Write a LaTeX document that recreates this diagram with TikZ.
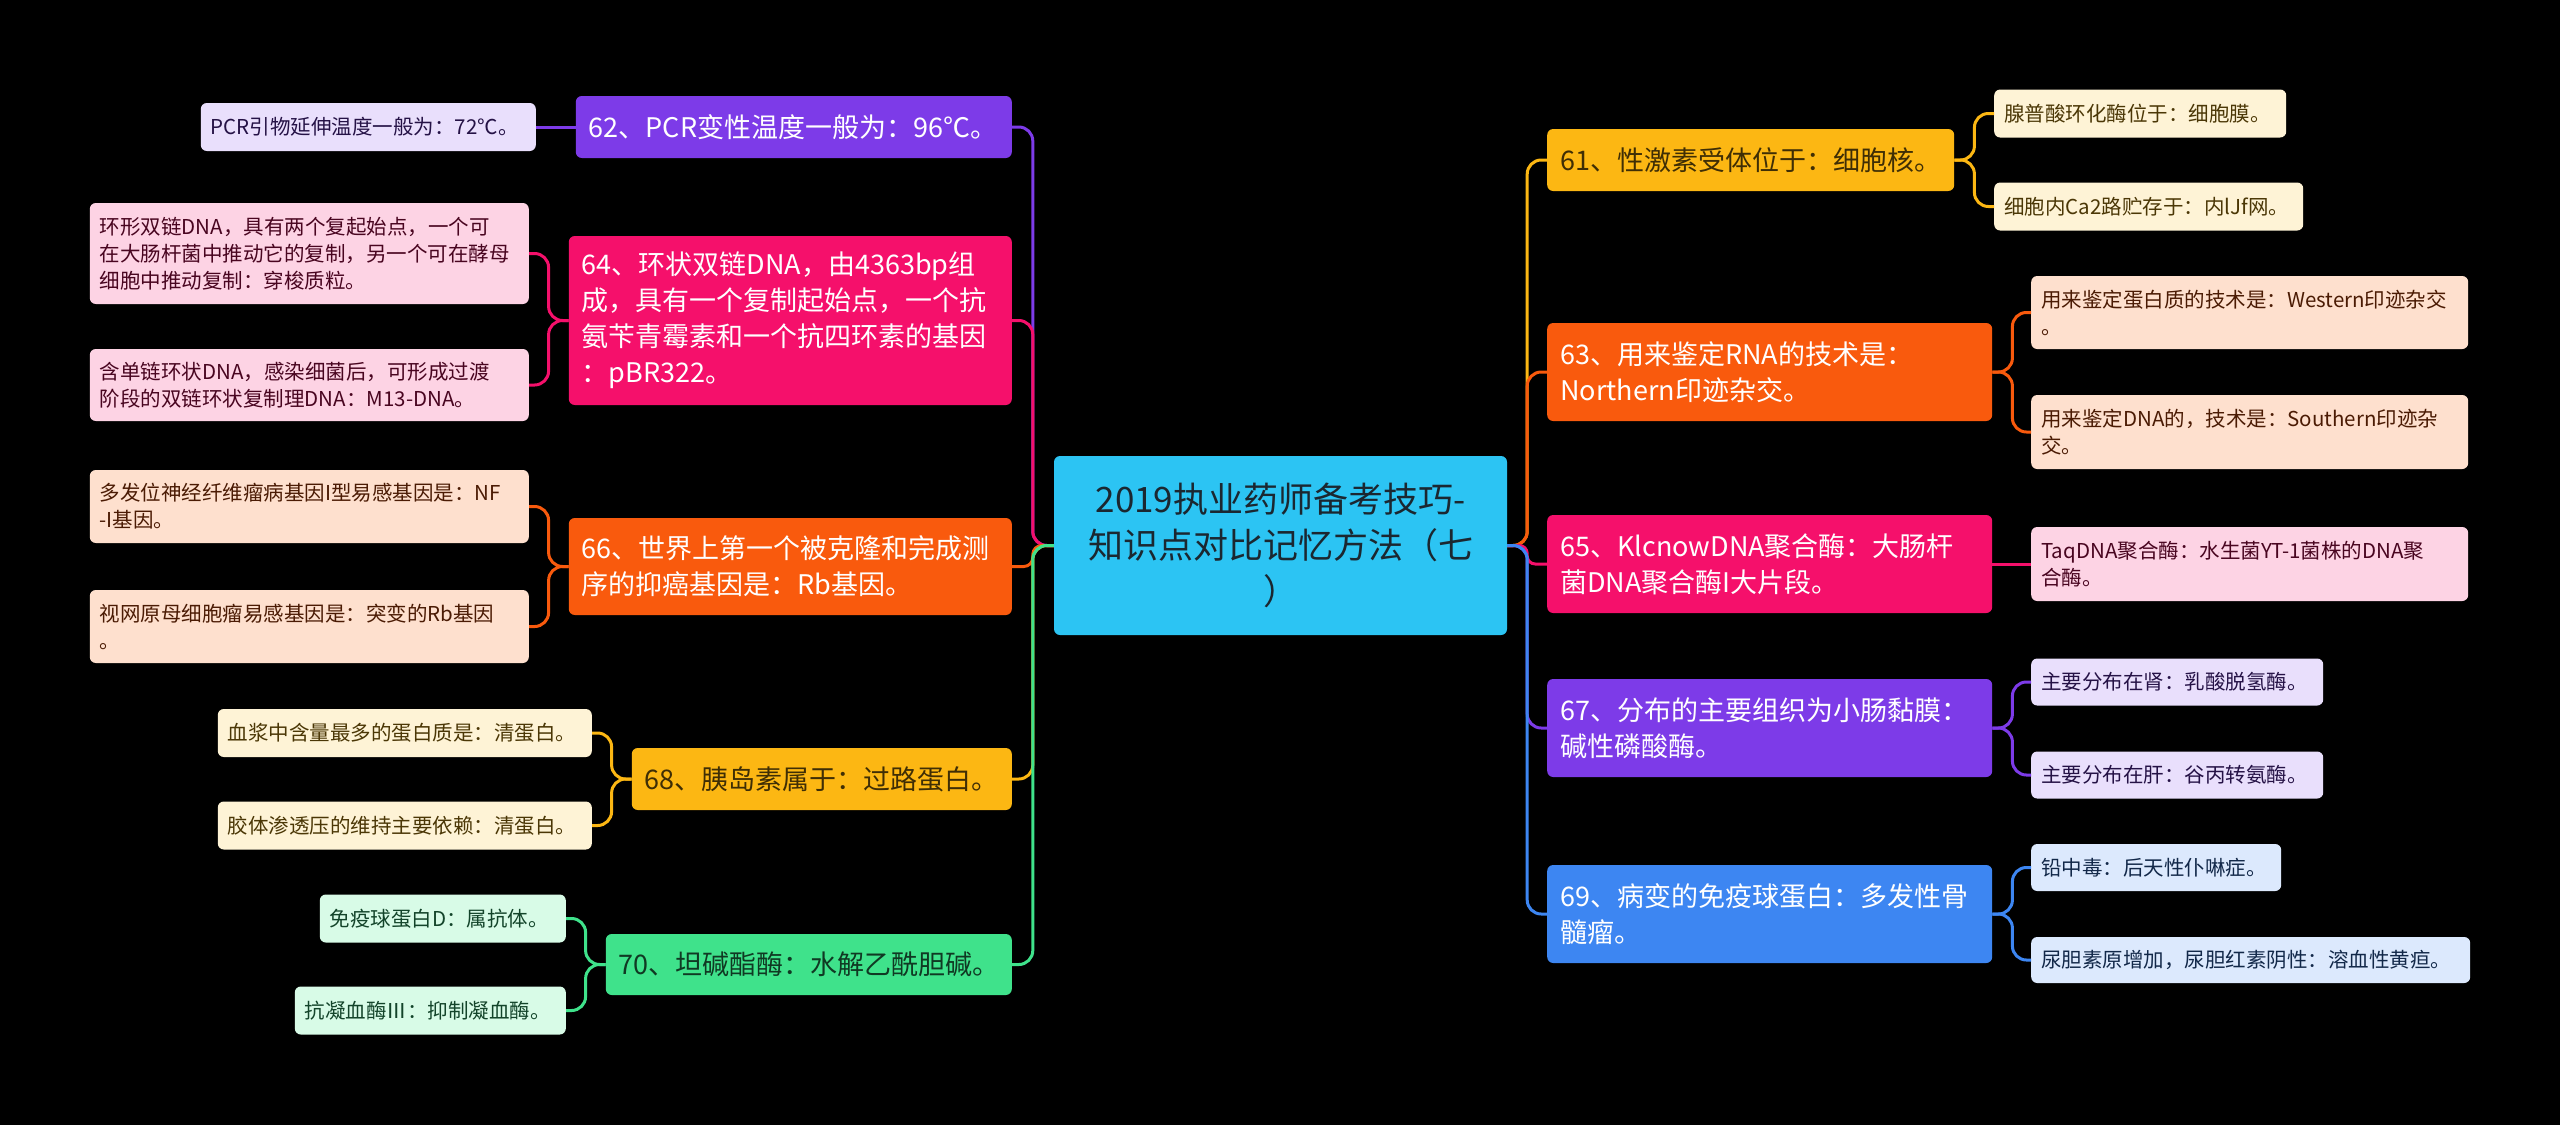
\documentclass[tikz,border=0pt]{standalone}
\usepackage{fontspec}
\setmainfont{Noto Sans CJK SC}
\definecolor{cPur}{HTML}{7D3BE8}
\definecolor{cMag}{HTML}{F5106B}
\definecolor{cOra}{HTML}{F95A0D}
\definecolor{cYel}{HTML}{FCB713}
\definecolor{cGre}{HTML}{3FE28B}
\definecolor{cBlu}{HTML}{3D86F2}
\definecolor{cCen}{HTML}{2CC4F3}
\definecolor{lPur}{HTML}{E9DFFC}
\definecolor{lMag}{HTML}{FDD3E4}
\definecolor{lOra}{HTML}{FEE0CE}
\definecolor{lYel}{HTML}{FEF3D6}
\definecolor{lGre}{HTML}{D8FBE7}
\definecolor{lBlu}{HTML}{DCE9FD}
\definecolor{tCen}{HTML}{1B2730}
\tikzset{
  basebox/.style={rounded corners=6pt, inner ysep=0pt, align=left},
  lone/.style={basebox, inner xsep=13pt, font=\fontsize{27pt}{36pt}\selectfont},
  leaf/.style={basebox, inner xsep=10pt, font=\fontsize{20.5pt}{27pt}\selectfont},
  conn/.style={line width=3pt, rounded corners=14pt},
}
\begin{document}
\begin{tikzpicture}[x=1pt,y=-1pt]
\fill[black] (0,0) rectangle (2560,1125);
\useasboundingbox (0,0) rectangle (2560,1125);

% central
\node[basebox, align=center, fill=cCen, text=tCen, text width=425pt, minimum height=179pt,
  font=\fontsize{35pt}{46pt}\selectfont, inner xsep=14pt] (c) at (1280.5,545.5)
  {2019执业药师备考技巧-\\知识点对比记忆方法（七\\）};

% left level-1
\node[lone, fill=cPur, text=white, text width=410pt, minimum height=62pt, anchor=east] (n62) at (1012,127) {62、PCR变性温度一般为：96℃。};
\node[lone, fill=cMag, text=white, text width=417pt, minimum height=169pt, anchor=east] (n64) at (1012,320.5) {64、环状双链DNA，由4363bp组\\成，具有一个复制起始点，一个抗\\氨苄青霉素和一个抗四环素的基因\\：pBR322。};
\node[lone, fill=cOra, text=white, text width=417pt, minimum height=97pt, anchor=east] (n66) at (1012,566.5) {66、世界上第一个被克隆和完成测\\序的抑癌基因是：Rb基因。};
\node[lone, fill=cYel, text=cYel!25!black, text width=354pt, minimum height=62pt, anchor=east] (n68) at (1012,779) {68、胰岛素属于：过路蛋白。};
\node[lone, fill=cGre, text=cGre!25!black, text width=380pt, minimum height=61pt, anchor=east] (n70) at (1012,964.5) {70、坦碱酯酶：水解乙酰胆碱。};

% right level-1
\node[lone, fill=cYel, text=cYel!25!black, text width=381pt, minimum height=62pt, anchor=west] (n61) at (1547,160) {61、性激素受体位于：细胞核。};
\node[lone, fill=cOra, text=white, text width=419pt, minimum height=98pt, anchor=west] (n63) at (1547,372) {63、用来鉴定RNA的技术是：\\Northern印迹杂交。};
\node[lone, fill=cMag, text=white, text width=419pt, minimum height=98pt, anchor=west] (n65) at (1547,564) {65、KlcnowDNA聚合酶：大肠杆\\菌DNA聚合酶I大片段。};
\node[lone, fill=cPur, text=white, text width=419pt, minimum height=98pt, anchor=west] (n67) at (1547,728) {67、分布的主要组织为小肠黏膜：\\碱性磷酸酶。};
\node[lone, fill=cBlu, text=white, text width=419pt, minimum height=98pt, anchor=west] (n69) at (1547,914) {69、病变的免疫球蛋白：多发性骨\\髓瘤。};

% left leaves
\node[leaf, fill=lPur, text=cPur!30!black, text width=315pt, minimum height=48pt, anchor=east] (l62) at (536,127) {PCR引物延伸温度一般为：72℃。};
\node[leaf, fill=lMag, text=cMag!30!black, text width=419pt, minimum height=101pt, anchor=east] (l64a) at (529,253.5) {环形双链DNA，具有两个复起始点，一个可\\在大肠杆菌中推动它的复制，另一个可在酵母\\细胞中推动复制：穿梭质粒。};
\node[leaf, fill=lMag, text=cMag!30!black, text width=419pt, minimum height=72pt, anchor=east] (l64b) at (529,385) {含单链环状DNA，感染细菌后，可形成过渡\\阶段的双链环状复制理DNA：M13-DNA。};
\node[leaf, fill=lOra, text=cOra!30!black, text width=419pt, minimum height=73pt, anchor=east] (l66a) at (529,506.5) {多发位神经纤维瘤病基因I型易感基因是：NF\\-I基因。};
\node[leaf, fill=lOra, text=cOra!30!black, text width=419pt, minimum height=73pt, anchor=east] (l66b) at (529,626.5) {视网原母细胞瘤易感基因是：突变的Rb基因\\。};
\node[leaf, fill=lYel, text=cYel!30!black, text width=354pt, minimum height=48pt, anchor=east] (l68a) at (592,733) {血浆中含量最多的蛋白质是：清蛋白。};
\node[leaf, fill=lYel, text=cYel!30!black, text width=354pt, minimum height=48pt, anchor=east] (l68b) at (592,825.5) {胶体渗透压的维持主要依赖：清蛋白。};
\node[leaf, fill=lGre, text=cGre!30!black, text width=226pt, minimum height=48pt, anchor=east] (l70a) at (566,918.5) {免疫球蛋白D：属抗体。};
\node[leaf, fill=lGre, text=cGre!30!black, text width=251pt, minimum height=48pt, anchor=east] (l70b) at (566,1010.5) {抗凝血酶Ⅲ：抑制凝血酶。};

% right leaves
\node[leaf, fill=lYel, text=cYel!30!black, text width=272pt, minimum height=48pt, anchor=west] (r61a) at (1994,113.5) {腺普酸环化酶位于：细胞膜。};
\node[leaf, fill=lYel, text=cYel!30!black, text width=289pt, minimum height=48pt, anchor=west] (r61b) at (1994,206.5) {细胞内Ca2路贮存于：内lJf网。};
\node[leaf, fill=lOra, text=cOra!30!black, text width=417pt, minimum height=73pt, anchor=west] (r63a) at (2031,312.5) {用来鉴定蛋白质的技术是：Western印迹杂交\\。};
\node[leaf, fill=lOra, text=cOra!30!black, text width=417pt, minimum height=74pt, anchor=west] (r63b) at (2031,432) {用来鉴定DNA的，技术是：Southern印迹杂\\交。};
\node[leaf, fill=lMag, text=cMag!30!black, text width=417pt, minimum height=74pt, anchor=west] (r65a) at (2031,564) {TaqDNA聚合酶：水生菌YT-1菌株的DNA聚\\合酶。};
\node[leaf, fill=lPur, text=cPur!30!black, text width=272pt, minimum height=47pt, anchor=west] (r67a) at (2031,682) {主要分布在肾：乳酸脱氢酶。};
\node[leaf, fill=lPur, text=cPur!30!black, text width=272pt, minimum height=47pt, anchor=west] (r67b) at (2031,775) {主要分布在肝：谷丙转氨酶。};
\node[leaf, fill=lBlu, text=cBlu!30!black, text width=230pt, minimum height=47pt, anchor=west] (r69a) at (2031,867.5) {铅中毒：后天性仆啉症。};
\node[leaf, fill=lBlu, text=cBlu!30!black, text width=419pt, minimum height=46pt, anchor=west] (r69b) at (2031,960) {尿胆素原增加，尿胆红素阴性：溶血性黄疸。};

% central -> left
\draw[conn, cPur] (c.west) -- ++(-21,0) |- (n62.east);
\draw[conn, cMag] (c.west) -- ++(-21,0) |- (n64.east);
\draw[conn, cOra, rounded corners=9pt] (c.west) -- ++(-21,0) |- (n66.east);
\draw[conn, cYel] (c.west) -- ++(-21,0) |- (n68.east);
\draw[conn, cGre] (c.west) -- ++(-21,0) |- (n70.east);
% central -> right
\draw[conn, cYel] (c.east) -- ++(20,0) |- (n61.west);
\draw[conn, cOra] (c.east) -- ++(20,0) |- (n63.west);
\draw[conn, cMag, rounded corners=8pt] (c.east) -- ++(20,0) |- (n65.west);
\draw[conn, cPur] (c.east) -- ++(20,0) |- (n67.west);
\draw[conn, cBlu] (c.east) -- ++(20,0) |- (n69.west);

% left leaves
\draw[conn, cPur] (n62.west) -- (l62.east);
\draw[conn, cMag] (n64.west) -- ++(-20,0) |- (l64a.east);
\draw[conn, cMag] (n64.west) -- ++(-20,0) |- (l64b.east);
\draw[conn, cOra] (n66.west) -- ++(-20,0) |- (l66a.east);
\draw[conn, cOra] (n66.west) -- ++(-20,0) |- (l66b.east);
\draw[conn, cYel] (n68.west) -- ++(-20,0) |- (l68a.east);
\draw[conn, cYel] (n68.west) -- ++(-20,0) |- (l68b.east);
\draw[conn, cGre] (n70.west) -- ++(-20,0) |- (l70a.east);
\draw[conn, cGre] (n70.west) -- ++(-20,0) |- (l70b.east);
% right leaves
\draw[conn, cYel] (n61.east) -- ++(20,0) |- (r61a.west);
\draw[conn, cYel] (n61.east) -- ++(20,0) |- (r61b.west);
\draw[conn, cOra] (n63.east) -- ++(20,0) |- (r63a.west);
\draw[conn, cOra] (n63.east) -- ++(20,0) |- (r63b.west);
\draw[conn, cMag] (n65.east) -- (r65a.west);
\draw[conn, cPur] (n67.east) -- ++(20,0) |- (r67a.west);
\draw[conn, cPur] (n67.east) -- ++(20,0) |- (r67b.west);
\draw[conn, cBlu] (n69.east) -- ++(20,0) |- (r69a.west);
\draw[conn, cBlu] (n69.east) -- ++(20,0) |- (r69b.west);
\end{tikzpicture}
\end{document}
